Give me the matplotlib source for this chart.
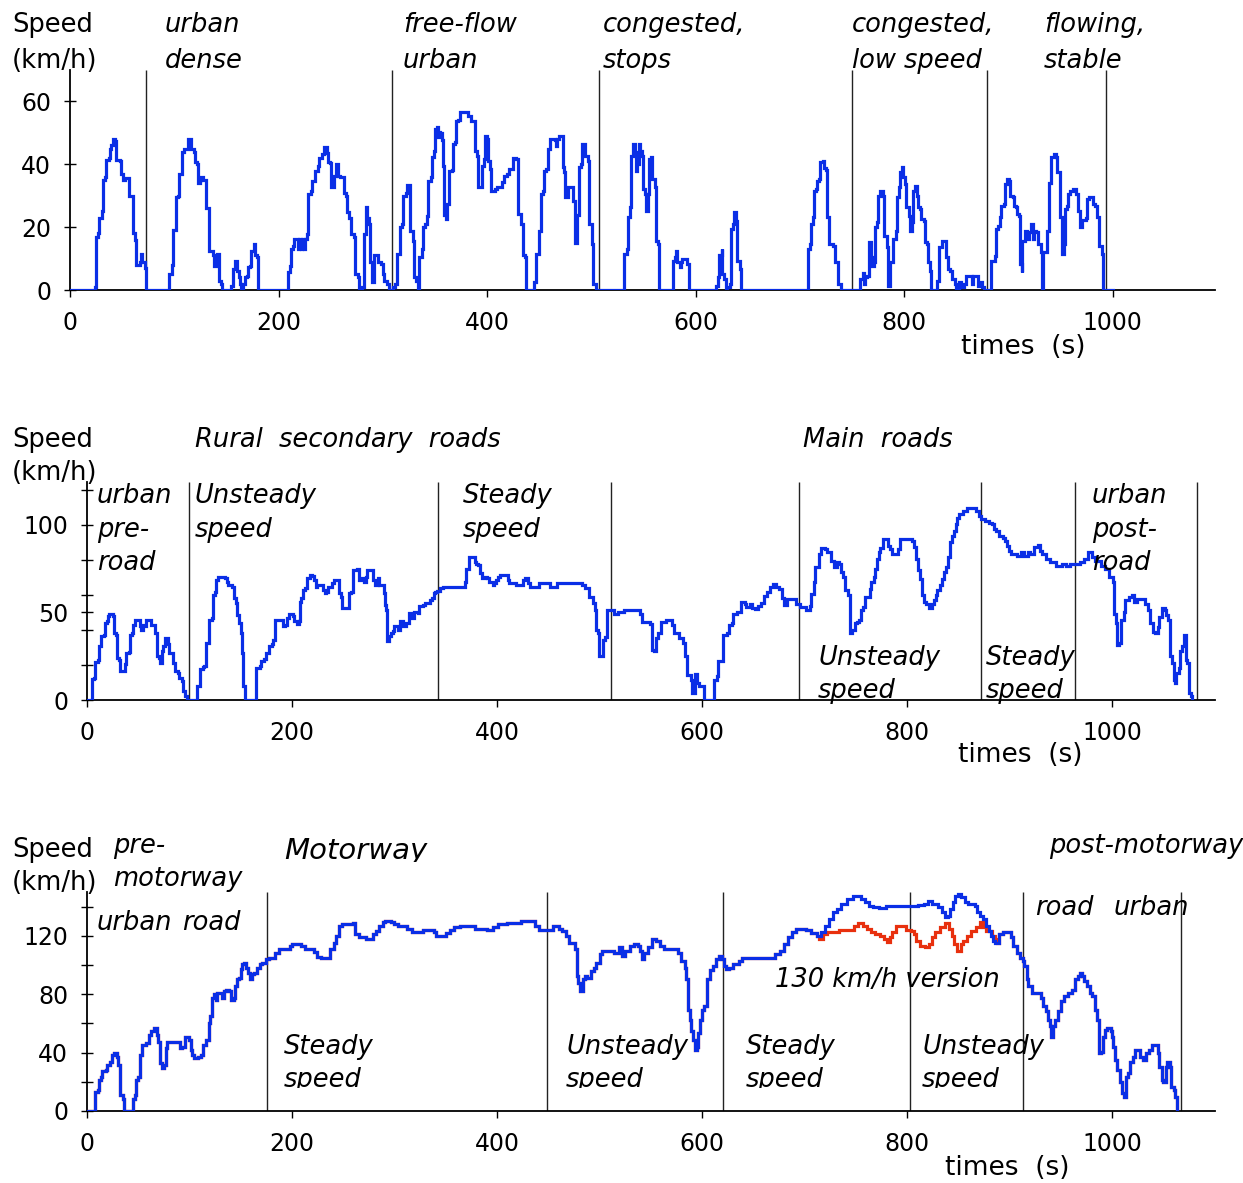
import matplotlib.pyplot as plt
from matplotlib.transforms import Bbox

# ---- data: (time s, speed km/h) ----
urban_trace = [
    (0, 0), (20, 0), (24, 1), (25, 17), (27, 18), (28, 23), (31, 25), (31.5, 35), (34, 36), (35, 41.5),
    (37, 42), (38, 45), (39, 46), (41, 48), (43.5, 47.5), (44.5, 41.5), (48, 41), (48.6, 37), (51, 35),
    (52.5, 35.6), (56.5, 35.3), (57, 30), (60, 29), (60.6, 18), (62.7, 16), (63.4, 8), (66.8, 9),
    (68.5, 11.5), (69.5, 9), (72, 7), (72.6, 0),
    (94, 0), (95, 5), (97.6, 8), (98.3, 19), (101, 19), (101.7, 29.5), (104, 30), (104.5, 37), (107, 38),
    (107.5, 44), (109.6, 45), (112, 45), (112.7, 48), (115.4, 48), (116.4, 45), (118.8, 44), (120, 40.6),
    (121.6, 40), (122.3, 34), (125, 35), (125.7, 36), (127.7, 35), (130, 35), (130.8, 26), (133, 24),
    (133.6, 12.5), (137, 11), (138, 7.7), (140.4, 7.7), (141, 11.5), (142, 11.5), (142.8, 3), (145, 2),
    (145.5, 0),
    (152.4, 0), (154.1, 1.4), (156.5, 6.7), (158.6, 9.3), (160, 6.2), (161.6, 4), (163.4, 2), (164.4, 0),
    (166, 2), (167.8, 4), (169.5, 4.6), (170.5, 7.2), (173, 7.7), (174, 12.5), (176.4, 14.6), (177.4, 11),
    (179.8, 10.4), (180.5, 0),
    (207, 0), (209, 5.6), (211.3, 7.7), (212.3, 13), (214, 14), (214.7, 16.2), (217.5, 16.2), (218.5, 13),
    (219.5, 16.2), (221.5, 13), (222.5, 16.2), (224.5, 13), (225.5, 16.2), (227.7, 17.8), (228.4, 30.5),
    (231, 31.5), (231.8, 34.8), (234.6, 35.8), (235.3, 38), (238, 39.6), (238.7, 42), (241.4, 43.3),
    (243.8, 45.4), (246.6, 43.5), (247.6, 40.6), (249, 40.3), (250, 32.7), (252.4, 32.7), (253.4, 36.4),
    (255, 40), (256.8, 36.4), (258.6, 35.8), (262, 35.8), (262.7, 31), (264.7, 30), (265.4, 24.7),
    (268, 23), (269.5, 17.8), (272.3, 16.8), (273, 5), (275.7, 4), (277.4, 0.3), (279.8, 0.8),
    (281.5, 17.8), (284.2, 26.3), (285, 23), (286.6, 21), (287.7, 8.8), (290, 2.4), (291.8, 11),
    (294.5, 11), (295.2, 8.8), (298, 8.3), (299.7, 5), (301.4, 3), (303.8, 1.9), (305.8, 0),
    (310, 0.8), (311.6, 1.9), (313.4, 11.5), (316, 12), (316.8, 20), (318.5, 21), (319.5, 30), (322, 31),
    (323, 33.5), (325.3, 33.5), (326, 18.9), (328.8, 15.7), (329.8, 4), (332, 3), (334, 0), (335, 10.4),
    (337.3, 13), (338.4, 20), (340.8, 21), (342.5, 23.6), (343.5, 34.8), (346, 35.8), (347, 42.4),
    (349.3, 44.3), (350, 51.2), (352, 52), (352.7, 48.8), (353.8, 50.3), (355, 49.8), (357, 47.7),
    (357.9, 39.6), (358.6, 24), (360.5, 22.6), (361.3, 27.4), (363, 28.4), (363.7, 38), (366.4, 38.2),
    (367.5, 46.4), (369.2, 47), (369.9, 53.9), (372.3, 54.1), (374, 56.5), (380, 56.5), (382, 55.4),
    (384.6, 53.9), (387.7, 53.9), (388, 44.3), (390.4, 42.7), (391.4, 32.7), (394.9, 32.7), (395.5, 39.6),
    (397.3, 41.7), (398.3, 49), (400, 48), (400.7, 41), (402.4, 38.4), (404, 31.6), (407.5, 32.1),
    (409.2, 32.7), (414.4, 34.3), (416, 36.4), (419.5, 36.9), (421.2, 38.4), (424.7, 42), (428, 41.7),
    (429.8, 24.2), (432.5, 21), (434.2, 11), (436.6, 10.4), (437.3, 0),
    (443.5, 0), (445, 2.4), (446.6, 11.5), (450, 18.9), (451.7, 30.5), (453.4, 31.6), (455, 38),
    (456.8, 38.5), (457.9, 44.9), (460, 45.4), (460.6, 48), (465, 47.7), (465.7, 45.9), (466.8, 48),
    (469.2, 49), (471.5, 49), (472.3, 39), (473.6, 37.4), (474.3, 29.5), (477, 29.5), (477.7, 32.7),
    (480.5, 32.7), (481.9, 28.4), (484, 26.3), (484.6, 15), (486.3, 24), (488, 39), (490.4, 40),
    (491.4, 46.4), (494, 42.7), (496.6, 41), (497.6, 21), (501, 14.6), (501.7, 1.9), (504, 0),
    (530, 0), (531.7, 11.5), (534, 13), (535, 23.1), (536.9, 26.3), (537.6, 42.7), (539.7, 43.8),
    (540.3, 46.4), (542, 43.8), (543, 38), (543.8, 40), (545.5, 46.4), (547, 44.3), (548.9, 42.7),
    (549.7, 32), (551.7, 30.5), (552.4, 25.2), (554, 30.5), (555, 41.7), (557.6, 42.2), (558.3, 35.3),
    (561, 32.7), (561.7, 15.7), (563.8, 14.6), (564.5, 0),
    (577.6, 0), (578.3, 9.3), (580.3, 10.4), (581, 12.5), (582.4, 8.8), (584.5, 7.2), (586, 8.8),
    (587, 9.9), (590.3, 9.9), (591.4, 8.3), (593.1, 8.3), (593.8, 0),
    (619, 0), (619.7, 1.4), (621.4, 4), (622, 11), (624.8, 13), (625.5, 5), (627.6, 3.5), (628.6, 0),
    (630, 0.8), (632.8, 1.9), (633.4, 19.4), (635.5, 21), (636.9, 24.7), (639, 22), (639.7, 9.3),
    (642.4, 6.6), (643, 0),
    (706.6, 0), (708, 13), (710, 14.6), (711, 21), (712.8, 23.1), (713.4, 31.6), (715.5, 32),
    (716.2, 34.8), (718.3, 35.3), (719, 40.6), (721.7, 41), (723, 38.8), (725.2, 38.3), (725.9, 23.1),
    (727.6, 19.9), (728.3, 14.6), (731.7, 14), (733.4, 8.8), (736.2, 8.5), (736.9, 1.9), (739.7, 0),
    (756.9, 0), (757.6, 3.5), (759.3, 3.5), (760.3, 5.3), (761.7, 1.9), (762.8, 4), (764.5, 4.6),
    (766.2, 15.2), (767.9, 10.4), (769, 7.7), (770.7, 8.8), (772, 20), (774.1, 21.6), (774.8, 30),
    (777.2, 31.4), (780, 30), (780.7, 17.3), (783.4, 13.6), (784.1, 1.4), (785.9, 1.4), (786.6, 8.8),
    (788.6, 8.8), (789.3, 16.2), (792, 18.9), (792.8, 29.5), (794.8, 32.7), (795.5, 37.4), (798, 39),
    (799, 35.8), (801, 33.7), (801.7, 26.3), (804.1, 23.6), (805.2, 18.9), (807.6, 21.6), (808.3, 31.6),
    (810.3, 33.2), (812.1, 30), (812.8, 26.3), (815.2, 25.8), (816.2, 22.6), (819, 22), (819.7, 15.2),
    (822, 14.6), (823.1, 8.8), (824.8, 6.2), (825.9, 0), (830, 0), (831.7, 3), (833.4, 13.6),
    (836.2, 15.7), (839.7, 15.7), (840.3, 10.4), (842.1, 6.6), (843.8, 6.2), (845.5, 3.5), (847.2, 3.5),
    (849, 1.9), (849.7, 0), (852.4, 2.4), (854.1, 0.8), (857.6, 1.9), (859.3, 4.6), (862.8, 4.6),
    (864.5, 1.9), (866.2, 4.6), (869.7, 4.6), (870.7, 1.4), (873.1, 2.4), (874.1, 0.8), (876.6, 0),
    (881.7, 0), (883.4, 9.3), (886.9, 10.9), (887.9, 19.4), (890.3, 20.5), (891.4, 23.1), (892.8, 26.8),
    (895.5, 27.4), (896.2, 33.7), (898.3, 35.3), (900.7, 34.8), (901.7, 30), (904.1, 29.5),
    (905.2, 26.8), (907.6, 26.3), (908.6, 24.2), (910, 23.6), (910.7, 8.3), (912.8, 5.6), (913.4, 15.7),
    (915.5, 16.8), (916.2, 18.9), (918, 16.2), (919.7, 18.3), (921.4, 21), (923.1, 16.2), (924.8, 18.9),
    (926.6, 18.3), (928.3, 14.6), (931, 12), (931.7, 0), (933.4, 12), (936.9, 18.9), (938.6, 34),
    (940.3, 35.5), (941, 42.2), (943.8, 43.3), (945.5, 42.4), (946.6, 37.4), (949, 35.8), (949.7, 23.1),
    (951.4, 11.5), (953.4, 14.6), (954.1, 25.8), (956.2, 26.8), (956.9, 30.5), (959.3, 31.6),
    (961.7, 32), (964.5, 30.5), (966.2, 25.2), (969, 20), (970.7, 22.2), (974.1, 22.8), (974.8, 29),
    (977.6, 29.5), (980, 29.5), (981, 27.4), (983.4, 26.8), (985.2, 23.1), (986.9, 14), (989.3, 11.5),
    (990.3, 0), (1000, 0),
]

rural_trace = [
    (0, 0), (4.5, 0), (5.2, 11.9), (7, 12.8), (8, 21.5), (10.5, 23), (11.5, 30.8), (13.2, 31.7), (14, 36.4),
    (16.4, 37.4), (17.4, 44), (19.2, 45), (20.2, 47.7), (21.9, 49.2), (25.4, 47.7), (26.1, 38.3),
    (28.6, 37.4), (29.6, 24), (31.4, 23), (32.4, 16.6), (35.9, 16.6), (36.6, 20.4), (38.3, 27),
    (40.8, 27.4), (41.8, 37.4), (44.3, 38.3), (45.3, 43), (47, 45.5), (49.8, 45.5), (51.6, 42), (53, 40.2),
    (54.7, 43), (56.4, 42), (57.5, 45.5), (61.7, 45.5), (62.7, 43), (64.5, 43), (66.2, 38.3), (67.9, 37.9),
    (68.6, 25), (70.7, 24), (71.4, 21.3), (73.2, 27.9), (74.2, 30.8), (75.6, 35.5), (78.4, 35.5),
    (79.1, 31.7), (80.1, 27), (82.6, 27), (83.6, 21.3), (85.4, 18.5), (86, 16.6), (88.9, 15.7),
    (89.9, 12.6), (92.3, 10.9), (94, 5.3), (95.8, 2.5), (97.6, 0),
    (106.3, 0), (107, 7.9), (109, 7.9), (109.8, 17.9), (113.2, 19), (114.3, 19.2), (115.7, 32.6),
    (118.5, 35.5), (119.2, 45.8), (122, 46.8), (123, 60), (124.4, 61.5), (125.4, 68.5), (127.9, 70),
    (130.7, 70), (134.1, 69.4), (136.9, 67.5), (137.6, 65.7), (141.1, 64.7), (142.9, 58), (145.3, 55.3),
    (146.3, 48.7), (148.1, 44), (149.8, 38.3), (151.6, 26.8), (152.3, 8), (154, 0),
    (163.8, 0), (164.8, 18.5), (168.3, 19.4), (169.7, 22.3), (172.5, 23.2), (174.2, 27), (176, 27),
    (177, 30.8), (180.1, 31.7), (181.2, 34.5), (182.9, 37.4), (183.6, 45.8), (189.9, 45.8), (190.9, 42),
    (192.7, 43), (195.1, 46.8), (196.9, 49.2), (199.7, 49.2), (201, 47.7), (202, 44.9), (204.5, 43.6),
    (206.6, 44.9), (207.3, 56.2), (209, 58), (210.8, 62.8), (212.5, 63.8), (214.3, 69.4), (217, 71.3),
    (219.5, 70.8), (221.3, 68.5), (223, 64.7), (224.7, 65.7), (228.2, 65.7), (230, 62.8), (231.7, 61),
    (233.4, 61.9), (235.2, 64.7), (238.7, 66.6), (240.4, 68.5), (243.9, 68.5), (245.6, 61), (247.4, 59.1),
    (249.1, 52.5), (254.4, 52.5), (255.4, 61), (257.8, 61.9), (259.6, 74), (263, 74.7), (264.8, 68.5),
    (268.3, 69.4), (270, 67.5), (271.8, 70.4), (273.5, 74), (277, 74), (278.7, 68.5), (280.5, 65.7),
    (283.3, 69.4), (284.7, 65.7), (287.5, 65.7), (289.2, 61), (290.3, 54.3), (291.6, 51.5), (292.7, 33.6),
    (294.4, 36.4), (296.2, 38.3), (298.6, 39.2), (299.7, 42), (303.1, 40.2), (304.9, 45), (308.4, 42),
    (311.1, 43.8), (313.6, 49.6), (316, 46.8), (318.8, 50.5), (322.3, 49.6), (324, 53.4), (327.5, 54.3),
    (329.3, 55.3), (332.8, 55.6), (334.5, 57.2), (336.2, 58.1), (338, 61), (339.7, 61.9), (341.5, 62.5),
    (343.9, 63.8), (346.7, 64.7),
    (367.6, 64.7), (368.6, 67.5), (370, 75), (372.8, 81.7), (376.3, 81.7), (378, 78.9), (379.8, 77.9),
    (381.5, 77), (383.3, 72.3), (385, 69.4), (386.8, 69.4), (388.5, 70.4), (390.2, 69.4), (392, 67.5),
    (393.7, 67.5), (395.5, 65.7), (397.2, 66.6), (399, 68.5), (400.7, 70.4), (402.4, 71.3), (407.7, 71.3),
    (410.1, 68.5), (411.1, 66.6), (416.4, 66.6), (418.1, 65.7), (423.3, 65.7), (425, 68.5), (427.5, 69.4),
    (430.3, 66.6), (432, 64.7), (437.3, 64.7), (440.8, 66.6), (447.7, 66.6), (451.2, 64.7), (458.2, 66.6),
    (466.9, 66.6), (479.1, 66.6), (482.6, 65.7), (486.1, 63.8), (489.5, 59), (492.3, 59), (493.7, 55.3),
    (495.8, 51.5), (496.5, 40.2), (498.3, 38.3), (499.3, 25), (501.5, 25), (502.8, 34.5), (505.2, 36.2),
    (507, 51.3), (510.5, 51.3), (514.2, 49.4), (518, 50.3), (523.8, 51.3), (535.4, 51.3), (539.2, 49.4),
    (541.2, 44.7), (547, 44.7), (548.8, 43.4), (550.8, 28.7), (552.7, 27.7), (554.6, 35.3), (556.5, 38),
    (559.6, 44.7), (564.2, 45.7), (570, 42.8), (572.7, 38), (577.7, 35.3), (581.5, 32.5), (583.5, 25),
    (585.4, 14.5), (589.2, 11.7), (590.4, 4.2), (593, 15.1), (595, 9.8), (596.9, 7.9), (600.8, 7.9),
    (601.9, 0),
    (609.6, 0), (611.2, 11.7), (614.2, 13.6), (615.4, 22.1), (619.2, 22.1), (620, 37.2), (623.8, 38.1),
    (625.8, 42.8), (628.8, 43.8), (630.4, 49.1), (633.5, 50.4), (637.3, 56), (641.2, 55.1), (643, 53.2),
    (646.9, 55.1), (648.8, 52.3), (651.9, 51.7), (654.6, 53.6), (657.3, 55.5), (660.4, 59.2),
    (663.5, 61.7), (666.2, 64.5), (668.8, 66.4), (671.9, 64.5), (675, 63.6), (677.7, 58.5), (679.6, 54.2),
    (682.7, 57.9), (686.5, 57.9), (691.2, 55.1), (695, 53.2), (700.8, 51.3), (704.6, 53.6), (705.8, 60.8),
    (708.5, 67.4), (710.4, 75.8), (713.5, 83.4), (716.2, 86.8), (720, 86.2), (721.9, 84.3), (725.8, 79.6),
    (728.8, 75.8), (731.5, 78.7), (733.5, 77.7), (735.4, 73), (737.3, 70.2), (739.2, 62.6), (741.9, 59.8),
    (744.2, 38.1), (745.8, 40), (748.8, 43.8), (750.8, 44.7), (752.7, 45.7), (754.6, 51.3), (756.5, 53.2),
    (758.5, 58.9), (760.4, 58.9), (763.5, 63.6), (765, 67.4), (767.3, 70.2), (768.8, 74.9), (770, 80.6),
    (771.9, 84.3), (773.8, 86.8), (775.8, 91.9), (779.6, 91.9), (781.5, 88.1), (783.5, 86.2),
    (785.4, 83.4), (789.2, 83.4), (791.2, 86.2), (793.1, 91.9), (800.8, 91.9), (804.6, 90.9),
    (806.5, 87.2), (808.5, 80.6), (810.4, 74), (812.3, 69.2), (814.2, 59.8), (816.2, 56), (818.1, 55.1),
    (821.2, 52.3), (823.8, 55.1), (825.8, 57), (827.7, 59.8), (828.8, 62.6), (831.5, 65.5), (833.5, 69.2),
    (835.4, 73), (837.3, 75.8), (839.2, 81.5), (841.2, 90), (843.1, 93.8), (845, 96.6), (847, 100.4),
    (848.8, 104.2), (850.8, 106), (854.6, 107.9), (858.5, 109.8), (864.2, 109.8), (867.3, 107.9),
    (870, 105.1), (871.9, 103.2), (875.8, 102.3), (879.6, 101.3), (882.7, 100.4), (884.2, 97.5),
    (886.5, 96.6), (889.2, 93.8), (893, 92.8), (895, 90.9), (896.9, 88.1), (898.8, 85.3), (900.8, 83.4),
    (906.5, 82.5), (908.5, 82.5), (911.2, 84.3), (914.2, 82.5), (917.3, 84.3), (920, 83.4), (923.8, 87.2),
    (927.7, 88.7), (929.6, 85.3), (931.5, 83.4), (935.4, 80.6), (939.2, 78.7), (945, 76.8), (950.8, 77.7),
    (954.6, 76.8), (958.5, 77.7), (968, 78.7), (971.9, 80.6), (975.8, 84.3), (977.7, 84.3), (979.6, 81.5),
    (982.7, 79.6), (987.3, 79.6), (989.2, 76.8), (993, 74.9), (996.9, 70.2), (1000.8, 67.4),
    (1001.5, 49.4), (1003.5, 43.8), (1004.6, 31.5), (1006.5, 32.5), (1008.5, 45.7), (1011.2, 50.4),
    (1012.3, 57), (1016.2, 58.9), (1018.8, 59.8), (1021.2, 56), (1023.8, 57.9), (1028.8, 57.9),
    (1031.5, 55.1), (1034.2, 51.3), (1036.5, 43.8), (1039.2, 39.1), (1041.9, 38.1), (1044.2, 41.9),
    (1045.8, 47.5), (1048, 52.3), (1050.8, 51.3), (1052.7, 48.5), (1054.6, 45.7), (1056.5, 24.9),
    (1058.5, 21.1), (1059.6, 11.7), (1061.2, 9.8), (1062.3, 15.5), (1065, 18.3), (1066.2, 27.7),
    (1068, 30.6), (1070, 37.2), (1071.9, 23), (1073, 21.1), (1074.6, 4.2), (1076.5, 2.3), (1077.7, 0),
]

# motorway: shared start, the two variants between ~712 s and ~886 s, shared end
motorway_start = [
    (0, 0), (5.2, 0), (8, 13.1), (10.5, 14.3), (11.5, 21.1), (13.9, 23.4), (15, 27.6), (18.5, 28),
    (19.2, 31.5), (22.6, 33.8), (24.4, 38.4), (26.8, 40), (28.9, 37.2), (30.7, 31.5), (32.4, 10.8),
    (34.8, 8.5), (35.9, 0), (43.6, 0), (45.3, 8.5), (47, 10.8), (47.7, 21.1), (49.8, 23.4), (51.2, 38.4),
    (54, 45.3), (57.5, 46.9), (60.3, 52.2), (62.7, 54.5), (65.2, 56.8), (67.9, 52.2), (69.7, 47.6),
    (71.4, 32.6), (73.2, 29.2), (74.9, 31.5), (76.7, 43), (78.4, 47.6), (88.9, 47.6), (90.6, 43),
    (93, 44.1), (95.1, 51), (97.6, 51), (99.3, 48.7), (101, 41.8), (102.8, 38.4), (104.5, 36.1),
    (108, 37.2), (111.5, 38.4), (113.2, 45.3), (116, 48.7), (118.5, 60.2), (120.2, 64.8), (122, 77.5),
    (123.7, 79.8), (125.4, 76.3), (127.2, 80.9), (130, 80.9), (131.4, 77.5), (133.4, 82.1), (135.9, 83.2),
    (138.3, 82.1), (140.4, 76.3), (142.9, 77.5), (144.6, 85.5), (146.3, 90.1), (148.1, 91.3),
    (149.8, 97.5), (151.6, 100.5), (153.3, 101.6), (155, 98.2), (156.8, 94.7), (159.2, 90.1),
    (161.3, 93.6), (162.7, 94.7), (165.5, 98.2), (168.3, 100.5), (170.7, 101.6), (174.2, 103.9),
    (177.7, 105.1), (182.9, 108.5), (187.1, 110.8), (195.1, 110.8), (197.6, 113.1), (200.3, 114.3),
    (205.6, 114.3), (209, 113.1), (212.5, 111.3), (217.8, 110.8), (221.3, 109), (224.7, 105.7),
    (228.2, 105.1), (234.5, 105.1), (236.9, 110.8), (240.4, 115.4), (242.9, 120), (245.6, 126.9),
    (249.1, 128), (259.6, 128.7), (261.3, 121.1), (264.8, 118.9), (271.8, 117.7), (277, 117.7),
    (278.7, 121.1), (282.2, 123.4), (284.7, 126.9), (288.2, 129.2), (290.9, 130.3), (296.2, 129.2),
    (299.7, 128), (303.1, 126.9), (306.6, 126.9), (311.8, 124.6), (317, 122.3), (322.3, 122.3),
    (327.5, 124.1), (334.5, 124.1), (338, 122.3), (340.4, 120), (346.7, 120), (350.2, 121.8),
    (354.4, 124.1), (357.8, 125.7), (364.1, 126.4), (372.8, 126.9), (378, 124.6), (383.3, 124.6),
    (390.2, 124.1), (395.5, 125.7), (400.7, 128), (409.4, 128.7), (418.1, 128.7), (423.3, 130.3),
    (433.8, 130.3), (437.3, 126.9), (440.8, 124.1), (449.5, 124.1), (454.7, 126.4), (460, 124.8),
    (463.4, 123.4), (466.9, 120), (470.4, 115.4), (475.6, 110.8), (477.4, 92.4), (479.1, 87.8),
    (480.8, 82.1), (483.3, 90.1), (486.1, 92.4), (487.8, 91.3), (491.3, 95.9), (494.8, 98.2),
    (496.5, 101.6), (500, 107.4), (502.7, 109.7), (510.4, 109.7), (514.2, 108.5), (518.8, 112),
    (521.9, 106.2), (525, 109.7), (529.6, 113.1), (533.5, 114.3), (537.3, 113.1), (539.2, 109.7),
    (541.2, 103.9), (543.1, 108.5), (546.9, 112), (550.8, 117.7), (554.6, 116.6), (558.5, 113.1),
    (562.3, 110.8), (573.8, 110.8), (576.5, 108.5), (579.6, 102.8), (582.7, 98), (584.6, 90.1),
    (586.5, 69.4), (588, 62.5), (589.2, 54.5), (591.2, 48.7), (593.1, 41.8), (595, 44.1), (595.8, 53.3),
    (598.1, 62.5), (599.6, 69.4), (601.9, 71.7), (604.6, 90.1), (607.3, 96.8), (610.4, 99.3),
    (613.5, 103.9), (616.2, 106.2), (618.8, 103.9), (620.8, 99.3), (622.7, 97), (625.8, 98.2),
    (629.6, 100.5), (635.4, 102.8), (639.2, 105.1), (668, 105.1), (671.2, 107.4), (675.8, 109.7),
    (679.6, 114.3), (683.5, 118.9), (687.3, 122.3), (691.2, 124.6), (700.8, 124.1), (706.5, 121.8),
    (712.3, 120),
]
motorway_150 = [
    (716.2, 122.3), (720, 126.9), (723.8, 131.5), (727.7, 136.1), (731.5, 138.4), (735.4, 141.8),
    (741.2, 145.3), (746.9, 147.6), (750.8, 147.6), (754.6, 145.3), (758.5, 143), (762.3, 140.7),
    (766.2, 139.5), (771.9, 138.8), (779.6, 140.7), (798.8, 140.7), (810.4, 141.1), (816.2, 141.8),
    (820, 144.1), (823.8, 141.8), (829.6, 139.5), (833.5, 136.1), (836.5, 132.6), (839.2, 133.8),
    (841.2, 138.4), (844.2, 143), (846.9, 147.6), (849.6, 148.7), (852.7, 146.4), (855.8, 143.4),
    (859.6, 141.8), (866.2, 140.7), (868.1, 136.1), (871.2, 133.8), (873.8, 131.5), (876.9, 126.9),
    (879.6, 123.4), (881.5, 120), (883.5, 116.6), (885.4, 115.4),
]
motorway_130 = [
    (714.2, 117.7), (718, 121.1), (721.9, 122.3), (727.7, 122.3), (733.5, 124.1), (745, 124.1),
    (748, 126.9), (751.9, 128.7), (756.5, 126.9), (760.4, 124.6), (765, 122.8), (768.8, 121.1),
    (773.8, 120), (777.7, 117.7), (780.4, 115.9), (782.7, 118.9), (785.4, 122.3), (789.2, 126.4),
    (795, 126.9), (798.8, 124.1), (803.5, 123.4), (806.5, 121.1), (808.5, 116.6), (812.3, 113.1),
    (817.3, 112), (821.2, 114.3), (823.8, 118.9), (826.5, 122.3), (831.5, 125.7), (836.5, 128.7),
    (840.4, 124.6), (843.1, 120), (845.8, 114.3), (848.8, 109.7), (851.9, 114.3), (854.6, 116.6),
    (858.5, 120), (862.3, 123.4), (867.3, 125.7), (871.2, 129.2), (873.8, 125.7), (876.5, 123.4),
    (879.6, 123.4), (882.7, 120), (885.4, 117.7),
]
motorway_end = [
    (887.3, 115.4), (889.2, 121.1), (893, 122.3), (898.8, 122.3), (900.8, 118.9), (903.5, 113.1),
    (906.5, 108.5), (909.6, 105.1), (912.3, 102.8), (914.2, 99.3), (916.2, 90.1), (918.1, 85.5),
    (921.2, 80.9), (927.7, 80.9), (930.4, 77.5), (932.7, 71.7), (935.4, 68.3), (937.3, 62.5), (939.2, 58),
    (940.4, 51), (941.9, 58), (944.2, 62.5), (946.9, 68.3), (949.6, 75.2), (952.7, 78.6), (956.5, 80.9),
    (960.4, 83.2), (963.5, 90.1), (966.2, 92.4), (968.1, 94.7), (970, 92.4), (971.9, 89), (975, 85.5),
    (977.7, 80.9), (980.4, 78.6), (982.7, 69.4), (985.4, 62.5), (987.3, 39.5), (989.2, 40.7), (991.2, 51),
    (993.1, 55.6), (995, 56.8), (998.1, 54.5), (999.6, 51), (1000.8, 44.1), (1002.7, 34.9),
    (1004.6, 28.1), (1007.3, 20), (1009.6, 12.2), (1011.2, 9.9), (1013.5, 23.4), (1015, 25.7),
    (1017.3, 33.8), (1020, 37.2), (1021.9, 41.8), (1025, 41.8), (1026.9, 37.2), (1029.6, 34.9),
    (1032.7, 39.5), (1035.4, 41.8), (1038.1, 45.3), (1041.9, 45.3), (1044.2, 39.5), (1045.8, 30.3),
    (1048.1, 21.1), (1049.6, 20), (1051.9, 30.3), (1053.5, 33.8), (1055.8, 30.3), (1057.3, 16.5),
    (1059.6, 14.2), (1061.2, 9.7), (1063.1, 0),
]

urban_bounds = [73, 309, 507, 750, 879, 993]
rural_bounds = [99, 342, 511, 694, 872, 963, 1082]
motorway_bounds = [176, 449, 620, 803, 913, 1067]

x_ticks = [0, 200, 400, 600, 800, 1000]

W, H = 1243, 1183
BLUE = '#0a2ee6'
RED = '#e8300e'
LBL = 18.5
plt.rcParams['font.family'] = 'DejaVu Sans'

fig = plt.figure(figsize=(W / 100, H / 100), dpi=100)


def px_axes(left, top, right, bottom):
    return fig.add_axes([left / W, 1 - bottom / H, (right - left) / W, (bottom - top) / H])


def label(x, y, s, size=LBL, italic=True, va='baseline', clip_bottom=None):
    t = fig.text(x / W, 1 - y / H, s, fontsize=size, style='italic' if italic else 'normal',
                 va=va, ha='left', color='black')
    if clip_bottom is not None:
        t.set_clip_box(Bbox.from_extents(0, H - clip_bottom, W, H))
        t.set_clip_on(True)
    return t


def style_axes(ax, xmax, ymax, yticks, yminor):
    ax.set_xlim(0, xmax)
    ax.set_ylim(0, ymax)
    for s in ['top', 'right']:
        ax.spines[s].set_visible(False)
    for s in ['left', 'bottom']:
        ax.spines[s].set_linewidth(1.3)
    ax.set_xticks(x_ticks)
    ax.set_yticks(yticks)
    ax.set_yticks(yminor, minor=True)
    ax.tick_params(axis='x', direction='out', length=5, width=1, labelsize=17, pad=10)
    ax.tick_params(axis='y', which='both', direction='inout', length=9, width=1,
                   labelsize=17, pad=9)
    ax.patch.set_alpha(0)


def trace(ax, pts, color, lw=2.3, z=3):
    t, v = zip(*pts)
    ax.plot(t, v, color=color, lw=lw, zorder=z, drawstyle='steps-post',
            solid_joinstyle='miter')


# ---- urban ----
ax1 = px_axes(70, 70, 1215, 290)
style_axes(ax1, 1098, 70, [0, 20, 40, 60], [])
ax1.vlines(urban_bounds, 0, 70, color='#222222', lw=1, zorder=2)
trace(ax1, urban_trace, BLUE)

label(12, 32, 'Speed', italic=False)
label(12, 68, '(km/h)', italic=False)
for x, s in [(165, 'urban\ndense'), (403, 'free-flow\nurban'), (603, 'congested,\nstops'),
             (852, 'congested,\nlow speed'), (1044, 'flowing,\nstable')]:
    l1, l2 = s.split('\n')
    label(x, 32, l1)
    label(x, 68, l2)
label(961, 347, 'times  (s)', size=19, italic=False, va='center')

# ---- rural ----
ax2 = px_axes(87, 482, 1215, 700)
style_axes(ax2, 1100, 124.5, [0, 50, 100], [20, 40, 60, 80, 120])
ax2.vlines(rural_bounds, 0, 124.5, color='#222222', lw=1, zorder=2)
trace(ax2, rural_trace, BLUE)

label(12, 447, 'Speed', italic=False)
label(12, 480, '(km/h)', italic=False)
label(195, 447, 'Rural  secondary  roads')
label(803, 447, 'Main  roads')
for x, lines in [(97, ['urban', 'pre-', 'road']), (195, ['Unsteady', 'speed']),
                 (463, ['Steady', 'speed']), (1092, ['urban', 'post-', 'road'])]:
    for i, s in enumerate(lines):
        label(x, 503 + 33.5 * i, s)
for x, lines in [(818, ['Unsteady', 'speed']), (986, ['Steady', 'speed'])]:
    for i, s in enumerate(lines):
        label(x, 665 + 33 * i, s)
label(958, 755, 'times  (s)', size=19, italic=False, va='center')

# ---- motorway ----
ax3 = px_axes(87, 892, 1215, 1111)
style_axes(ax3, 1100, 150, [0, 40, 80, 120], [20, 60, 100, 140])
ax3.vlines(motorway_bounds, 0, 150, color='#222222', lw=1, zorder=2)
trace(ax3, motorway_start + motorway_130 + motorway_end, RED, z=3)
trace(ax3, motorway_start + motorway_150 + motorway_end, BLUE, z=4)

label(12, 857, 'Speed', italic=False)
label(12, 890, '(km/h)', italic=False)
label(113, 853, 'pre-')
label(113, 886, 'motorway')
label(284, 859, 'Motorway', size=21, clip_bottom=862)
label(1049, 853, 'post-motorway')
label(97, 930, 'urban')
label(182, 930, 'road')
label(1035, 915, 'road')
label(1114, 915, 'urban')
label(775, 987, '130 km/h version')
for x, s1 in [(284, 'Steady'), (566, 'Unsteady'), (746, 'Steady'), (922, 'Unsteady')]:
    label(x, 1054, s1)
    label(x, 1087, 'speed', clip_bottom=1088)
label(945, 1168, 'times  (s)', size=19, italic=False, va='center')

fig.savefig('out.png', dpi=100, facecolor='white')
